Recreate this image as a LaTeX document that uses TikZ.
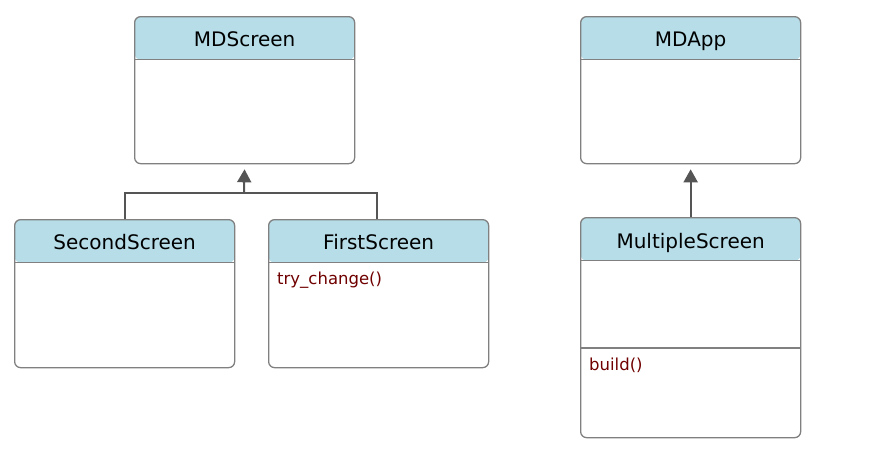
\documentclass[tikz,border=0pt]{standalone}
\usepackage{fontspec}
\setmainfont{DejaVu Sans}
\usepackage{xcolor}
\usetikzlibrary{arrows.meta, positioning, calc}
\definecolor{headblue}{HTML}{B6DDE8}
\definecolor{boxgray}{HTML}{808080}
\definecolor{linegray}{HTML}{555555}
\definecolor{opred}{HTML}{700000}
\tikzstyle{classbox} = [draw=boxgray, line width=1.3pt, rounded corners=6pt, fill=white,
  minimum width=220pt, inner sep=0pt, anchor=north west,
  path picture={\fill[headblue] ([yshift=2pt]path picture bounding box.north west) rectangle ([yshift=-43pt]path picture bounding box.north east);
    \draw[boxgray, line width=1.3pt] ([yshift=-43pt]path picture bounding box.north west) -- ([yshift=-43pt]path picture bounding box.north east);}]
\tikzstyle{classtitle} = [font=\fontsize{20}{24}\selectfont, text=black, inner sep=0pt, anchor=base]
\tikzstyle{operation} = [font=\fontsize{16.5}{20}\selectfont, text=opred, inner sep=0pt, anchor=base west]
\tikzstyle{inherit} = [line width=2pt, draw=linegray, -{Triangle[width=14pt,length=13pt]}, shorten >=5pt]

\begin{document}
\begin{tikzpicture}[x=1pt, y=-1pt]
        \useasboundingbox (0,0) rectangle (889,458);
        % classes
        \node[classbox, minimum height=147pt] (mdscreen) at (134,16) {};
        \node[classtitle] (mdscreentitle) at ([yshift=-30pt]mdscreen.north) {MDScreen};
        \node[classbox, minimum height=147pt] (mdapp) at (580,16) {};
        \node[classtitle] (mdapptitle) at ([yshift=-30pt]mdapp.north) {MDApp};
        \node[classbox, minimum height=148pt] (secondscreen) at (14,219) {};
        \node[classtitle] (secondscreentitle) at ([yshift=-30pt]secondscreen.north) {SecondScreen};
        \node[classbox, minimum height=148pt] (firstscreen) at (268,219) {};
        \node[classtitle] (firstscreentitle) at ([yshift=-30pt]firstscreen.north) {FirstScreen};
        \node[operation] (trychange) at (277,284) {try\_change()};
        \node[classbox, minimum height=220pt] (multiplescreen) at (580,217) {};
        \node[classtitle] (multiplescreentitle) at ([yshift=-31pt]multiplescreen.north) {MultipleScreen};
        \draw[boxgray, line width=1.3pt] ([yshift=-131pt]multiplescreen.north west) -- ([yshift=-131pt]multiplescreen.north east);
        \node[operation] (build) at (589,370) {build()};

        % inheritance
        \coordinate (joint) at (244,193);
        \draw[line width=2pt, draw=linegray] (secondscreen.north) |- (joint) -| ([xshift=-2pt]firstscreen.north);
        \draw[inherit] (joint) -- (mdscreen.south);
        \draw[inherit] (multiplescreen.north) -- (mdapp.south);
    \end{tikzpicture}
\end{document}
